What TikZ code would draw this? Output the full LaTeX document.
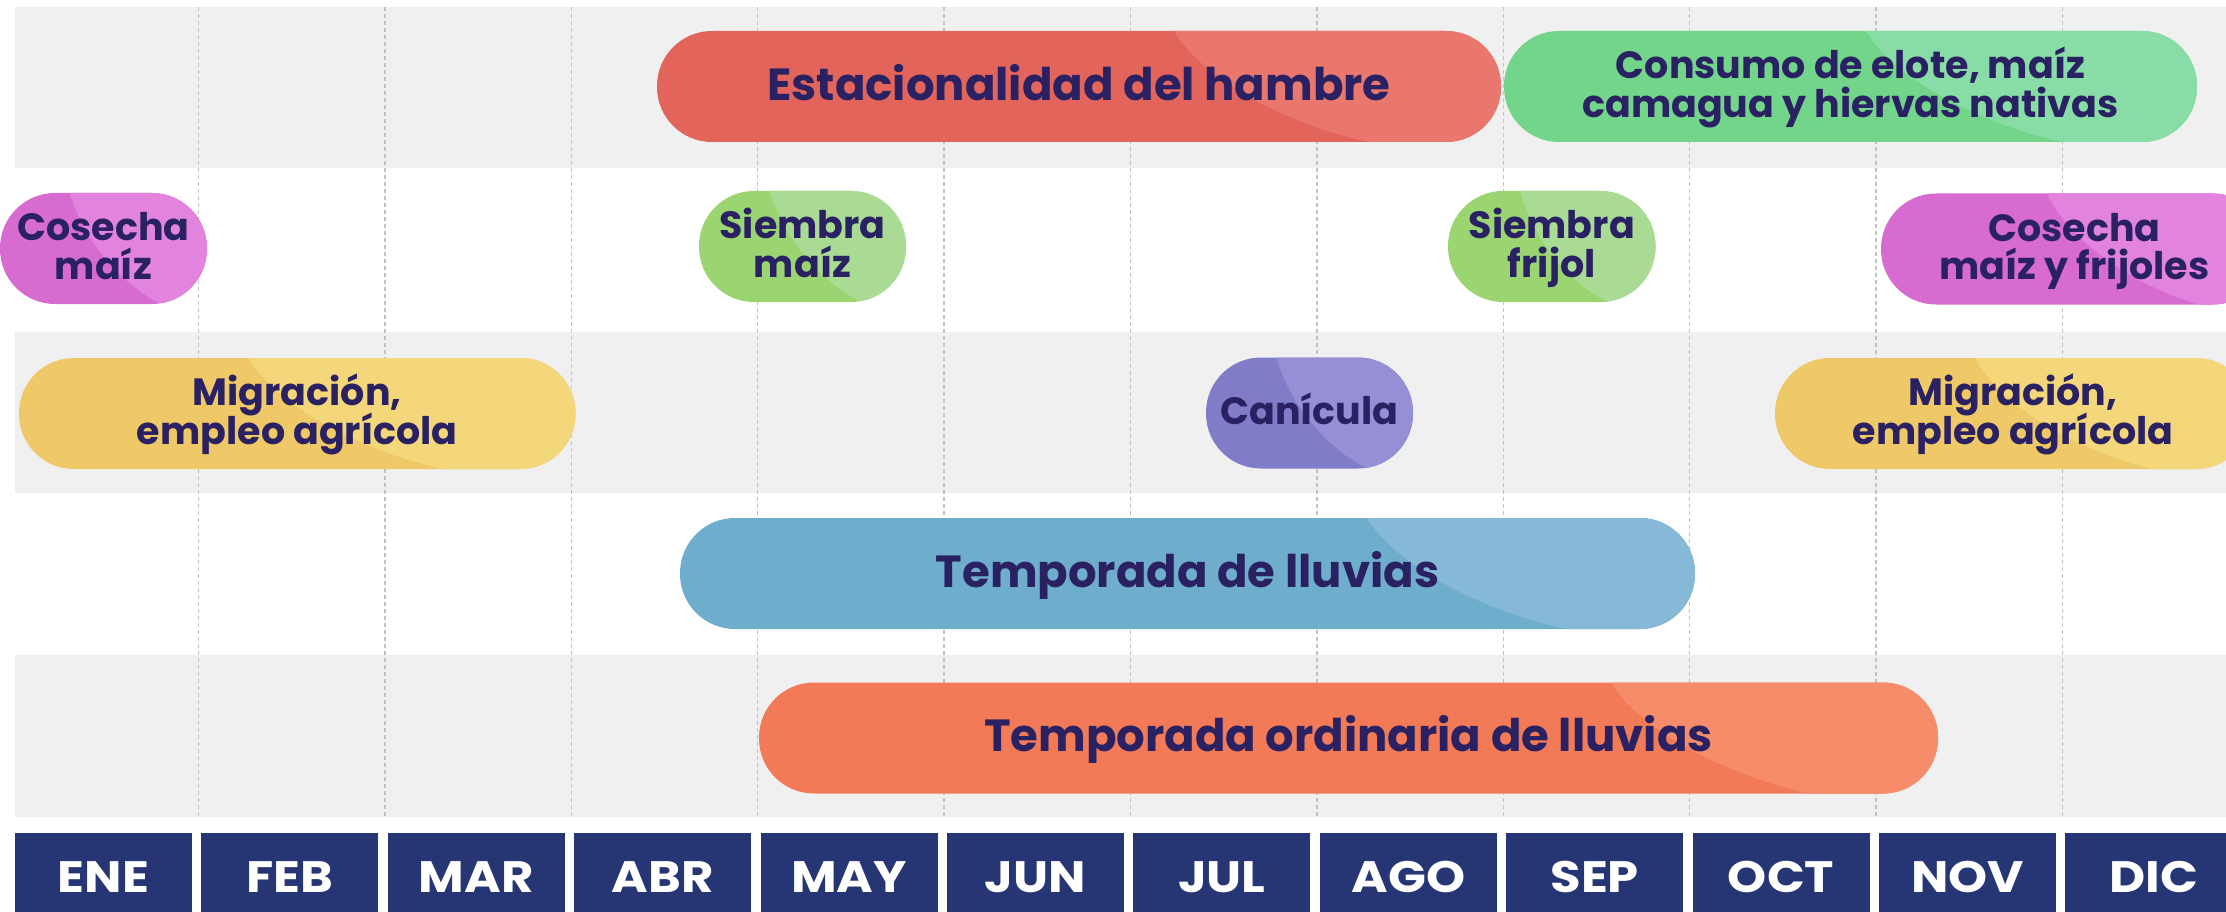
\documentclass[tikz,border=0pt]{standalone}
\usepackage{fontspec}
\setmainfont{Poppins}
\usetikzlibrary{calc}
\lineskiplimit=-100pt
\lineskip=0pt
\definecolor{ink}{HTML}{2A2163}
\definecolor{bandgray}{HTML}{EFF0EF}
\definecolor{gridgray}{HTML}{C2C2C2}
\definecolor{monthblue}{HTML}{263674}
\definecolor{redA}{HTML}{E2645A}\definecolor{redB}{HTML}{EA776D}
\definecolor{grnA}{HTML}{72D58A}\definecolor{grnB}{HTML}{88DCA5}
\definecolor{lgrA}{HTML}{9BD571}\definecolor{lgrB}{HTML}{A9DB95}
\definecolor{magA}{HTML}{D86BD0}\definecolor{magB}{HTML}{E283DE}
\definecolor{yelA}{HTML}{EFC867}\definecolor{yelB}{HTML}{F3D77A}
\definecolor{purA}{HTML}{817CC8}\definecolor{purB}{HTML}{958FD6}
\definecolor{bluA}{HTML}{6FADCD}\definecolor{bluB}{HTML}{86B8D8}
\definecolor{oraA}{HTML}{F37A57}\definecolor{oraB}{HTML}{F68C6A}
\newcommand\sS{\rule[-12pt]{0pt}{47pt}}
\newcommand\sB{\rule[-12pt]{0pt}{51.5pt}}
\tikzset{
  pill/.style={rectangle, rounded corners=55pt, minimum height=111pt, inner sep=0pt, text=ink, align=center},
  bigtxt/.style={font=\fontsize{45}{45}\selectfont\bfseries},
  smalltxt/.style={font=\fontsize{38}{38.5}\selectfont\bfseries},
  monthbox/.style={rectangle, fill=monthblue, minimum width=177pt, minimum height=88pt, inner sep=0pt, text=white, font=\fontsize{44}{44}\selectfont\bfseries},
  band/.style={fill=bandgray},
  gridline/.style={draw=gridgray, line width=1.5pt, dash pattern=on 4pt off 3pt},
  shine/.style n args={3}{path picture={
    \pgfmathsetmacro\cA{0.155*(#3-#2)}
    \pgfmathsetmacro\cB{0.36*(#3-#2)}
    \fill[#1, sharp corners] ($(path picture bounding box.north west)+(#2pt,0pt)$)
      .. controls +(\cA pt,-52pt) and +(-\cB pt,14pt) ..
      ($(path picture bounding box.south west)+(#3pt,0pt)$)
      -- ($(path picture bounding box.south east)+(5pt,-5pt)$)
      -- ($(path picture bounding box.north east)+(5pt,5pt)$) -- cycle;}}
}
\begin{document}
\begin{tikzpicture}[x=1pt,y=-1pt]
\useasboundingbox (0,0) rectangle (2226,912);
% bands
\fill[band] (15,7) rectangle (2226,168);
\fill[band] (15,332) rectangle (2226,493);
\fill[band] (15,655) rectangle (2226,817);
% grid lines
\foreach \i in {0,...,10}{
  \draw[gridline] ({198.5+186.4*\i},7) -- ({198.5+186.4*\i},817);
}
% pills
\node[pill, fill=redA, minimum width=844pt, bigtxt, shine={redB}{517}{712}] (hambre) at (1079,86.5) {\sB Estacionalidad del hambre};
\node[pill, fill=grnA, minimum width=693pt, smalltxt, shine={grnB}{362}{560}] (consumo) at (1850.5,86.5) {\sS Consumo de elote, maíz\\\sS camagua y hiervas nativas};
\node[pill, fill=magA, minimum width=207pt, smalltxt, shine={magB}{70}{162}] (cosechaL) at (103.5,248.5) {\sS Cosecha\\\sS maíz};
\node[pill, fill=lgrA, minimum width=207pt, smalltxt, shine={lgrB}{71}{163}] (siembraM) at (802.5,246.5) {\sS Siembra\\\sS maíz};
\node[pill, fill=lgrA, minimum width=207.5pt, smalltxt, shine={lgrB}{72}{160}] (siembraF) at (1551.75,246.5) {\sS Siembra\\\sS frijol};
\node[pill, fill=magA, minimum width=387pt, smalltxt, shine={magB}{166}{319}] (cosechaR) at (2074.5,249) {\sS Cosecha\\\sS maíz y frijoles};
\node[pill, fill=yelA, minimum width=556.5pt, smalltxt, shine={yelB}{229.5}{425}] (migL) at (297.25,413.5) {\sS Migración,\\\sS empleo agrícola};
\node[pill, fill=purA, minimum width=207pt, smalltxt, shine={purB}{70.5}{162}] (canicula) at (1309.5,413) {\sS Canícula};
\node[pill, fill=yelA, minimum width=476pt, smalltxt, shine={yelB}{200}{378}] (migR) at (2013,413.5) {\sS Migración,\\\sS empleo agrícola};
\node[pill, fill=bluA, minimum width=1015pt, bigtxt, shine={bluB}{687}{887}] (lluvias) at (1187.5,573.5) {\sB Temporada de lluvias};
\node[pill, fill=oraA, minimum width=1179pt, bigtxt, shine={oraB}{852}{1052}] (ordinaria) at (1348.5,738) {\sB Temporada ordinaria de lluvias};
% months
\foreach \m [count=\k from 0] in {ENE,FEB,MAR,ABR,MAY,JUN,JUL,AGO,SEP,OCT,NOV,DIC}{
  \node[monthbox] (m\k) at ({103.5+186.4*\k},877) {\scalebox{1.13}[1]{\m}};
}
\end{tikzpicture}
\end{document}
